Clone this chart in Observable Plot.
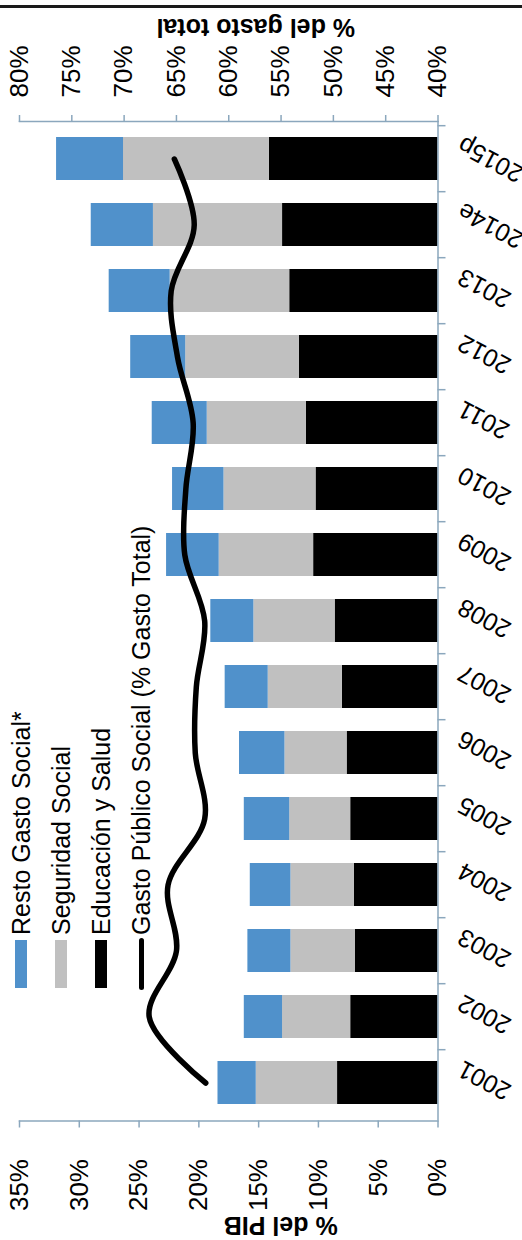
<!DOCTYPE html>
<html><head><meta charset="utf-8">
<script src="https://cdn.jsdelivr.net/npm/d3@7"></script>
<script src="https://cdn.jsdelivr.net/npm/@observablehq/plot@0.6"></script>
<style>
html,body{margin:0;padding:0;background:#fff;}
#wrap{position:relative;width:522px;height:1240px;overflow:hidden;font-family:"Liberation Sans",Arial,sans-serif;background:#fff;}
#topline{position:absolute;left:0;top:5px;width:522px;height:3px;background:#1a1a1a;}
#chart{position:absolute;left:0;top:0;}
#legend{position:absolute;left:1px;top:988px;transform-origin:0 0;transform:rotate(-90deg);font-size:25px;white-space:nowrap;color:#000;}
.item{height:40px;display:flex;align-items:center;position:relative;}
.sw{display:inline-block;width:48px;height:12px;margin-right:5px;flex:none;}
.ln{display:inline-block;width:52px;height:5px;border-radius:3px;background:#000;margin-left:-2px;margin-right:3px;flex:none;}
</style>
</head><body>
<div id="wrap">
  <div id="chart"></div>
  <div id="topline"></div>
  <div id="legend"></div>
</div>
<script>
// ---- data ----
const years = ["2001","2002","2003","2004","2005","2006","2007","2008","2009","2010","2011","2012","2013","2014e","2015p"];
const educacionSalud = [8.4, 7.3, 6.9, 7.0, 7.3, 7.6, 8.0, 8.6, 10.4, 10.2, 11.0, 11.6, 12.4, 13.0, 14.1];
const seguridadSocial = [6.8, 5.7, 5.4, 5.3, 5.1, 5.2, 6.2, 6.8, 7.9, 7.7, 8.3, 9.5, 10.0, 10.8, 12.2];
const restoGastoSocial = [3.2, 3.2, 3.6, 3.4, 3.8, 3.8, 3.6, 3.6, 4.4, 4.3, 4.6, 4.6, 5.1, 5.2, 5.6];
const gastoSocialPctTotal = [62.2, 67.6, 65.0, 65.8, 62.3, 63.2, 63.1, 62.3, 64.2, 64.1, 63.4, 64.9, 65.5, 63.3, 65.2];
const pibTicks = [0, 5, 10, 15, 20, 25, 30, 35];
const gastoTicks = [40, 45, 50, 55, 60, 65, 70, 75, 80];
const seriesNames = ["Resto Gasto Social*", "Seguridad Social", "Educación y Salud"];
const lineName = "Gasto Público Social (% Gasto Total)";
const seriesColors = ["#5091cb", "#c0c0c0", "#000000"];
const axisColor = "#8ba7bd";

// ---- build ----
const W = 522, H = 1240, mT = 121, mB = 119.5, mL = 19, mR = 84.5;
const step = (H - mT - mB) / years.length;
// secondary axis (% gasto total 40..80) mapped onto primary (% PIB 0..35)
const toPib = g => (g - 40) * 35 / 40;
const fromPib = p => p * 40 / 35 + 40;

const bars = years.flatMap((y, i) => [
  {year: y, series: seriesNames[2], value: educacionSalud[i]},
  {year: y, series: seriesNames[1], value: seguridadSocial[i]},
  {year: y, series: seriesNames[0], value: restoGastoSocial[i]}
]);
const lineData = years.map((y, i) => ({year: y, v: toPib(gastoSocialPctTotal[i])}));

const font = "Liberation Sans, Arial, sans-serif";
const chart = Plot.plot({
  width: W, height: H,
  marginTop: mT, marginBottom: mB, marginLeft: mL, marginRight: mR,
  style: {fontFamily: font, background: "transparent", color: "#000"},
  x: {domain: [0, 35], reverse: true, label: null},
  y: {domain: years, reverse: true, paddingInner: 0.353, paddingOuter: 0.1765, align: 0.5, label: null},
  color: {domain: seriesNames, range: seriesColors},
  marks: [
    Plot.barX(bars, {x: "value", y: "year", fill: "series"}),
    Plot.lineX(lineData, {x: "v", y: "year", curve: "catmull-rom", stroke: "#000", strokeWidth: 5.5, strokeLinecap: "round"}),
    Plot.ruleX([0], {stroke: axisColor, strokeWidth: 1.5}),
    Plot.frame({anchor: "top", stroke: axisColor, strokeWidth: 1.5}),
    Plot.frame({anchor: "bottom", stroke: axisColor, strokeWidth: 1.5}),
    Plot.ruleY(years, {y: d => d, x1: 0, x2: 0, insetRight: -8, dy: -step / 2, stroke: axisColor, strokeWidth: 1.5}),
    Plot.axisX(pibTicks, {anchor: "bottom", tickSize: 7, tickPadding: 31, tickRotate: -90, tickFormat: d => d + "%", fontSize: 26, stroke: axisColor, fill: "#000", strokeWidth: 1.5, label: null}),
    Plot.axisX(gastoTicks.map(toPib), {anchor: "top", tickSize: 7, tickPadding: 17, tickRotate: -90, tickFormat: d => Math.round(fromPib(d)) + "%", fontSize: 26, stroke: axisColor, fill: "#000", strokeWidth: 1.5, label: null}),
    Plot.axisY({anchor: "right", tickSize: 0, tickPadding: 22, tickRotate: 208, textAnchor: "end", lineAnchor: "middle", dy: -16, fontSize: 25, fill: "#000", label: null}),
    Plot.text(["% del PIB"], {text: d => d, frameAnchor: "bottom", lineAnchor: "middle", rotate: 180, dx: 52, dy: 104, fontSize: 25, fontWeight: "bold"}),
    Plot.text(["% del gasto total"], {text: d => d, frameAnchor: "top", lineAnchor: "middle", rotate: 180, dx: 27, dy: -95, fontSize: 25, fontWeight: "bold"})
  ]
});
document.getElementById("chart").appendChild(chart);

// legend (rotated like the rest of the figure)
const legend = document.getElementById("legend");
seriesNames.forEach((name, i) => {
  const it = document.createElement("div");
  it.className = "item";
  const sw = document.createElement("span");
  sw.className = "sw";
  sw.style.background = seriesColors[i];
  it.appendChild(sw);
  it.appendChild(document.createTextNode(name));
  legend.appendChild(it);
});
{
  const it = document.createElement("div");
  it.className = "item";
  const ln = document.createElement("span");
  ln.className = "ln";
  it.appendChild(ln);
  it.appendChild(document.createTextNode(lineName));
  legend.appendChild(it);
}
</script>
</body></html>
